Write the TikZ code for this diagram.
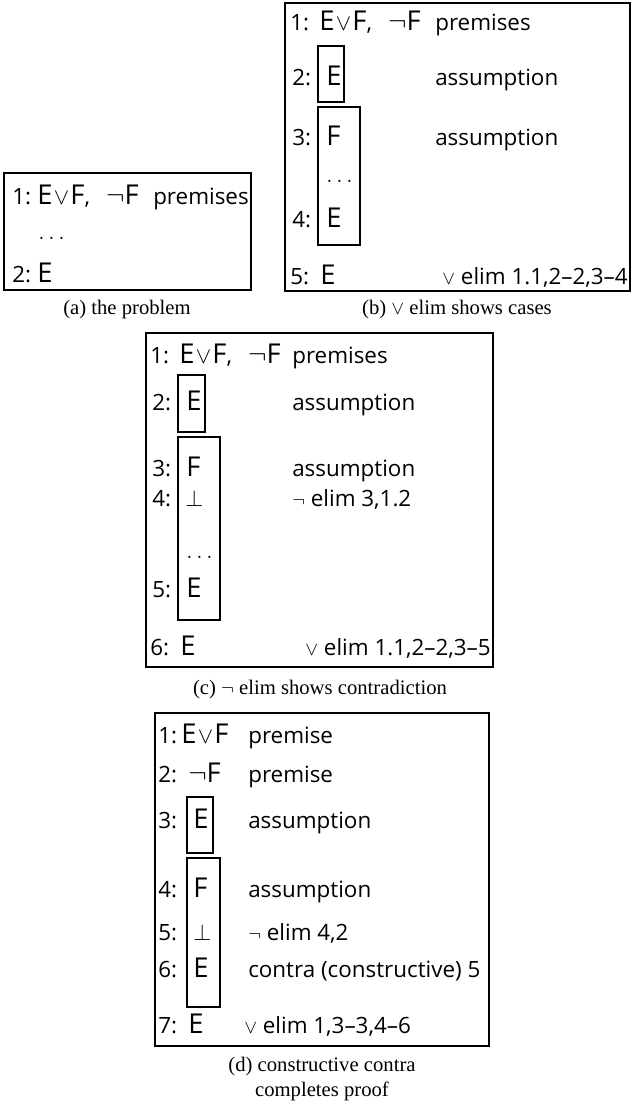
\documentclass[tikz,border=0pt]{standalone}
\usepackage{fontspec}
\setmainfont{Liberation Serif}
\newfontfamily\pf{Open Sans}
\newcommand\wsz{\fontsize{16.8}{18}\selectfont}
\newcommand\ML[1]{{\fontsize{20.5}{22}\selectfont #1}}
\newcommand\smv{{\fontsize{15}{15}\selectfont$\vee$}}
\newcommand\smn{{\fontsize{15}{15}\selectfont$\neg$}}
\newcommand\bt{{\fontsize{17}{17}\selectfont$\bot$}}
\newcommand\mydots{{\fontsize{19}{19}\selectfont$\ldots$}}
\newcommand\EvF{\ML{E}\hspace{1pt}$\vee$\hspace{1pt}\ML{F}}
\newcommand\prem{\EvF,\hspace{12pt}\ML{$\neg$F}}
\begin{document}
\begin{tikzpicture}[x=0.75pt,y=-0.75pt,
  outerbox/.style={draw=black, line width=1pt},
  subbox/.style={draw=black, line width=0.9pt},
  proofl/.style={anchor=base west, inner sep=0pt, font=\pf\wsz},
  proofr/.style={anchor=base east, inner sep=0pt, font=\pf\wsz},
  captext/.style={anchor=base, inner sep=0pt, font=\fontsize{15.5}{18.75}\selectfont}]
\useasboundingbox (0,0) rectangle (631,1107);

% ---------- (a)
\draw[outerbox] (4,173) rectangle (251,290);
\node[proofl] (a1l) at (12,204) {1:};
\node[proofl] (a1m) at (37,204) {\prem};
\node[proofl] (a1r) at (153,204) {premises};
\node[proofl] (adots) at (38,239) {\mydots};
\node[proofl] (a2l) at (12,282) {2:};
\node[proofl] (a2m) at (37,282) {\ML{E}};
\node[captext] (acap) at (127,314) {(a) the problem};

% ---------- (b)
\draw[outerbox] (285,3) rectangle (630,291);
\node[proofl] (b1l) at (290,30) {1:};
\node[proofl] (b1m) at (319,30) {\prem};
\node[proofl] (b1r) at (435,30) {premises};
\draw[subbox] (318,46) rectangle (344,102);
\node[proofl] (b2l) at (292,85) {2:};
\node[proofl] (b2m) at (326,85) {\ML{E}};
\node[proofl] (b2r) at (435,85) {assumption};
\draw[subbox] (318,107) rectangle (360,245);
\node[proofl] (b3l) at (292,145) {3:};
\node[proofl] (b3m) at (326,145) {\ML{F}};
\node[proofl] (b3r) at (435,145) {assumption};
\node[proofl] (bdots) at (326,182) {\mydots};
\node[proofl] (b4l) at (292,227) {4:};
\node[proofl] (b4m) at (326,227) {\ML{E}};
\node[proofl] (b5l) at (290,284) {5:};
\node[proofl] (b5m) at (320,284) {\ML{E}};
\node[proofr] (b5r) at (628,284) {\smv\ elim 1.1,2–2,3–4};
\node[captext] (bcap) at (457,314) {(b) $\vee$ elim shows cases};

% ---------- (c)
\draw[outerbox] (146,333) rectangle (493,667);
\node[proofl] (c1l) at (150,363) {1:};
\node[proofl] (c1m) at (179,363) {\prem};
\node[proofl] (c1r) at (292,363) {premises};
\draw[subbox] (178,375) rectangle (205,432);
\node[proofl] (c2l) at (152,410) {2:};
\node[proofl] (c2m) at (186,410) {\ML{E}};
\node[proofl] (c2r) at (292,410) {assumption};
\draw[subbox] (178,437) rectangle (220,620);
\node[proofl] (c3l) at (152,476) {3:};
\node[proofl] (c3m) at (186,476) {\ML{F}};
\node[proofl] (c3r) at (292,476) {assumption};
\node[proofl] (c4l) at (152,506) {4:};
\node[proofl] (c4m) at (185,506) {\bt};
\node[proofl] (c4r) at (292,506) {\smn\ elim 3,1.2};
\node[proofl] (cdots) at (186,558) {\mydots};
\node[proofl] (c5l) at (152,597) {5:};
\node[proofl] (c5m) at (186,597) {\ML{E}};
\node[proofl] (c6l) at (150,655) {6:};
\node[proofl] (c6m) at (180,655) {\ML{E}};
\node[proofr] (c6r) at (491,655) {\smv\ elim 1.1,2–2,3–5};
\node[captext] (ccap) at (320,694) {(c) $\neg$ elim shows contradiction};

% ---------- (d)
\draw[outerbox] (155,713) rectangle (489,1046);
\node[proofl] (d1l) at (158,743) {1:};
\node[proofl] (d1m) at (181,743) {\EvF};
\node[proofl] (d1r) at (248,743) {premise};
\node[proofl] (d2l) at (158,782) {2:};
\node[proofl] (d2m) at (188,782) {\ML{$\neg$F}};
\node[proofl] (d2r) at (248,782) {premise};
\draw[subbox] (187,797) rectangle (213,853);
\node[proofl] (d3l) at (158,828) {3:};
\node[proofl] (d3m) at (193,828) {\ML{E}};
\node[proofl] (d3r) at (248,828) {assumption};
\draw[subbox] (187,858) rectangle (220,1007);
\node[proofl] (d4l) at (158,897) {4:};
\node[proofl] (d4m) at (193,897) {\ML{F}};
\node[proofl] (d4r) at (248,897) {assumption};
\node[proofl] (d5l) at (158,940) {5:};
\node[proofl] (d5m) at (193,940) {\bt};
\node[proofl] (d5r) at (248,940) {\smn\ elim 4,2};
\node[proofl] (d6l) at (158,977) {6:};
\node[proofl] (d6m) at (193,977) {\ML{E}};
\node[proofl] (d6r) at (248,977) {contra (constructive) 5};
\node[proofl] (d7l) at (158,1033) {7:};
\node[proofl] (d7m) at (188,1033) {\ML{E}};
\node[proofl] (d7r) at (244,1033) {\smv\ elim 1,3–3,4–6};
\node[captext] (dcap1) at (322,1071) {(d) constructive contra};
\node[captext] (dcap2) at (322,1096) {completes proof};
\end{tikzpicture}
\end{document}
